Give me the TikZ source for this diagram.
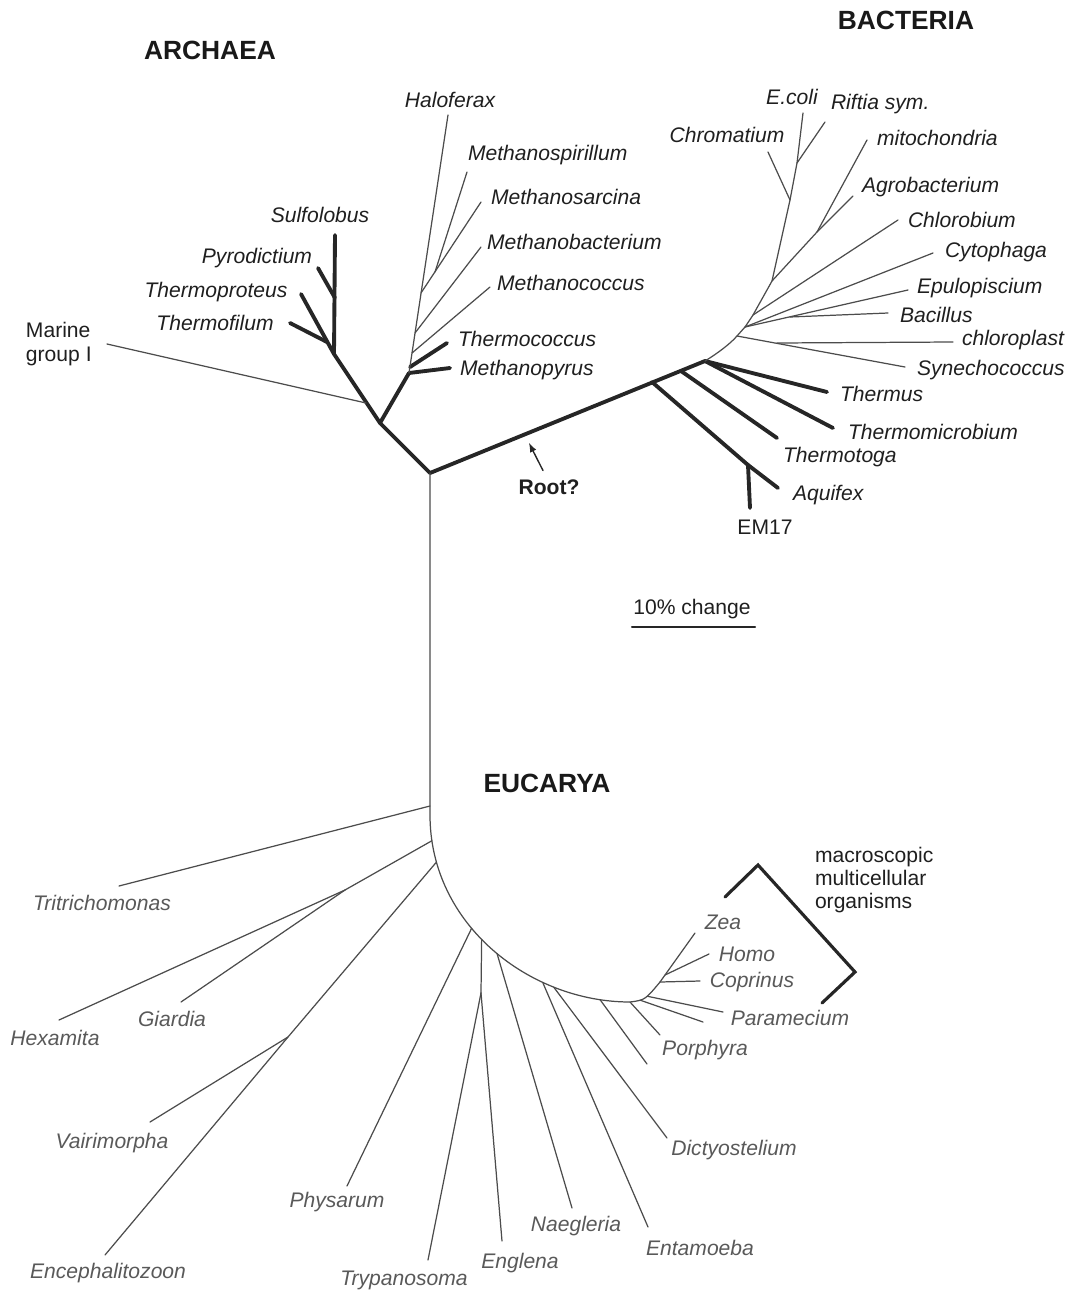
\documentclass[tikz,border=0pt]{standalone}
\usepackage{fontspec}
\setmainfont{Liberation Sans}
\usetikzlibrary{positioning}
\begin{document}
\begin{tikzpicture}[x=0.02cm,y=-0.02cm,line cap=round,line join=round,
 every node/.style={outer sep=0pt,inner sep=0pt,font=\fontsize{12}{14.5}\selectfont,text=black!88},
 br/.style={line width=0.7pt,draw=black!70},
 tk/.style={line width=2.2pt,draw=black!85},
 sp/.style={font=\fontsize{12}{14.5}\selectfont\itshape},
 eu/.style={sp,text=black!65},
 dom/.style={font=\fontsize{15}{18}\selectfont\bfseries,text=black!90}]
\useasboundingbox (0,0) rectangle (1073,1295);

  \foreach \n/\x/\y in {c/430/473,a1/380/423,a2/366/403,a3/334/354,mar/107/344,sul/335/235,
   a4/335/298,pyr/318/268,tpr/301/294,a5/327/342,tfi/290/323,e0/409/373,mpy/450/368,
   e1/410/367,tco/447/343,hal/448/115,e2/412/353,mco/490/287,e3/415/333,mba/481/247,
   e4/421/293,msa/481/202,e5/435/272,msp/467/172}
   \coordinate (\n) at (\x,\y);
  \foreach \n/\x/\y in {b1/652/382,b2/681/371,b3/705/361,b4/748/465,aqu/778/488,em/750/508,
   tto/777/438,tmi/833/428,ths/827/392,f0/737/336,f1/745/327,f2/753/315,sa/772/281,
   sb/817/232,sc/790/200,sr/797/163,eco/803/113,syn/905/367,g1/777/343,chl/953/342,
   epu/908/290,g2/790/317,bac/888/313,cyt/933/253,chb/898/220,mit/867/140,agr/853/196,
   chr/768/152,rif/825/122}
   \coordinate (\n) at (\x,\y);
  \foreach \n/\x/\y in {u0/430/815,u9/630/1002,k1/660/982,tr0/430/806,tri/119/886,
   h1/345/890,hex/59/1020,gia/181/1002,v1/288/1037,vai/150/1122,enc/105/1255,
   phy/347/1186,t1/481/993,try/428/1260,eng/502/1241,nae/572/1208,ent/648/1227,
   dic/667/1138,po2/647/1064,po1/660/1035,pa2/703/1022,pa1/723/1012,zea/695/933,
   z1/665/975,hom/709/954,cop/700/981,k2/725/897,k3/758/865,k4/855/972,k5/822/1003,
   s1/632/627,s2/755/627,rt0/529/443}
   \coordinate (\n) at (\x,\y);

  \foreach \a/\b in {c/a1,a1/a3,a3/sul,a4/pyr,a3/tpr,a5/tfi,a1/e0,e0/mpy,e1/tco,
   c/b3,b1/b4,b4/aqu,b4/em,b2/tto,b3/tmi,b3/ths}
   \draw[tk] (\a) -- (\b);
  \foreach \a/\b in {a2/mar,e0/hal,e2/mco,e3/mba,e4/msa,e5/msp}
   \draw[br] (\a) -- (\b);

  \draw[br] (b3) .. controls (718,353) and (730,344) .. (f0) -- (f1) -- (f2) -- (sa)
   -- (sc) -- (sr) -- (eco);
  \foreach \a/\b in {f0/syn,g1/chl,f1/epu,g2/bac,f1/cyt,f2/chb,sa/sb,sb/mit,sb/agr,
   sc/chr,sr/rif}
   \draw[br] (\a) -- (\b);

  \draw[br] (c) -- (u0) .. controls (430,925) and (530,1002) .. (u9)
   coordinate[pos=0.08] (h0) coordinate[pos=0.15] (v0) coordinate[pos=0.4] (p0)
   coordinate[pos=0.45] (t0) coordinate[pos=0.52] (n0) coordinate[pos=0.7] (en0)
   coordinate[pos=0.74] (d0) coordinate[pos=0.9] (q0)
   .. controls (645,1000) .. (k1) coordinate[pos=0.3] (r2) coordinate[pos=0.6] (r1);
  \foreach \a/\b in {tr0/tri,h0/h1,h1/hex,h1/gia,v0/v1,v1/vai,v1/enc,p0/phy,t0/t1,
   t1/try,t1/eng,n0/nae,en0/ent,d0/dic,q0/po2,u9/po1,r2/pa2,r1/pa1,k1/zea,z1/hom,k1/cop}
   \draw[br] (\a) -- (\b);
  \draw[tk,line width=1.8pt,line join=miter] (k2) -- (k3) -- (k4) -- (k5);

  \node[dom] (larc) at (210,50) {ARCHAEA};
  \node[dom] (lbac) at (906,20) {BACTERIA};
  \node[dom] (leuc) at (547,783) {EUCARYA};

  \foreach \n/\x/\y/\t in {sul/320/215/Sulfolobus,pyr/257/258/Pyrodictium,
   tpr/216/292/Thermoproteus,tfi/215/323/Thermofilum,hal/450/100/Haloferax,
   eco/792/97/E.coli,chr/727/135/Chromatium}
   \node[sp] (l\n) at (\x,\y) {\t};
  \foreach \n/\x/\y/\t in {msp/468/155/Methanospirillum,msa/491/197/Methanosarcina,
   mba/487/242/Methanobacterium,mco/497/283/Methanococcus,tco/458/339/Thermococcus,
   mpy/460/370/Methanopyrus,rif/831/104/Riftia sym.,mit/877/138/mitochondria,
   agr/862/187/Agrobacterium,chb/908/220/Chlorobium,cyt/945/252/Cytophaga,
   epu/917/288/Epulopiscium,bac/900/315/Bacillus,chl/962/340/chloroplast,
   syn/917/370/Synechococcus,ths/840/394/Thermus,tmi/848/432/Thermomicrobium,
   tto/783/457/Thermotoga,aqu/793/495/Aquifex}
   \node[sp,anchor=west] (l\n) at (\x,\y) {\t};
  \foreach \n/\x/\y/\t in {tri/102/903/Tritrichomonas,hex/55/1038/Hexamita,
   gia/172/1019/Giardia,vai/112/1143/Vairimorpha,enc/108/1273/Encephalitozoon,
   phy/337/1202/Physarum,try/404/1280/Trypanosoma,eng/520/1263/Englena,
   nae/576/1226/Naegleria,ent/700/1248/Entamoeba,dic/734/1150/Dictyostelium,
   por/705/1050/Porphyra,par/790/1018/Paramecium,cop/752/982/Coprinus,
   hom/747/954/Homo,zea/723/922/Zea}
   \node[eu] (l\n) at (\x,\y) {\t};

  \node[anchor=west,align=left,font=\fontsize{12}{13.5}\selectfont] (lmar) at (26,344)
   {Marine\\group I};
  \node (lem) at (765,527) {EM17};
  \node[anchor=west,align=left,font=\fontsize{12}{13}\selectfont] (lmac) at (815,880)
   {macroscopic\\multicellular\\organisms};
  \node[font=\fontsize{12}{14}\selectfont\bfseries] (root) at (549,487) {Root?};
  \draw[line width=0.8pt,black!85,-latex] ([shift={(-6,-9)}]root.north) -- (rt0);
  \node (lscl) at (692,609) {10\% change};
  \draw[line width=1.2pt,black!85] (s1) -- (s2);
\end{tikzpicture}
\end{document}
